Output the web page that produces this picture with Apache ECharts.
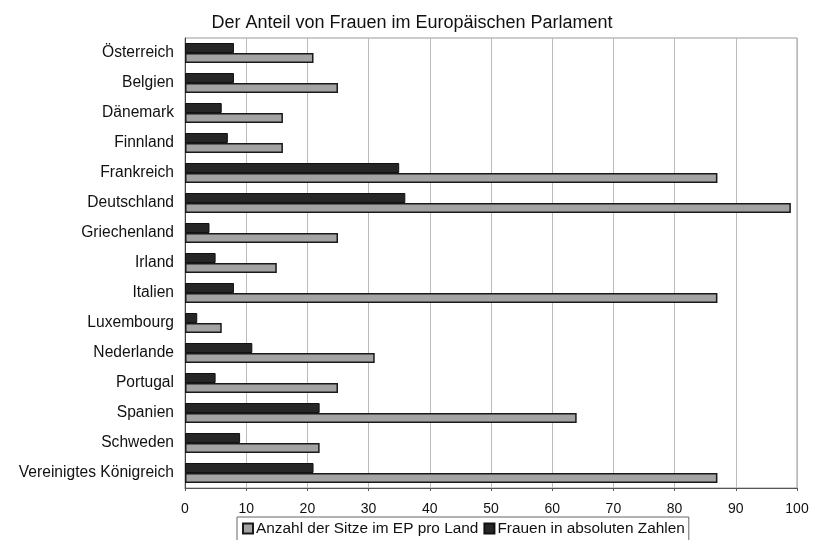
<!DOCTYPE html>
<html><head><meta charset="utf-8">
<script src="https://cdn.jsdelivr.net/npm/echarts@6/dist/echarts.min.js"></script>
<style>html,body{margin:0;padding:0;background:#fff}#c{width:814px;height:540px}</style>
</head><body><div id="c"></div>
<script>
const categories = ["Österreich","Belgien","Dänemark","Finnland","Frankreich","Deutschland","Griechenland","Irland","Italien","Luxembourg","Nederlande","Portugal","Spanien","Schweden","Vereinigtes Königreich"];
const seats = [21,25,16,16,87,99,25,15,87,6,31,25,64,22,87];
const women = [8,8,6,7,35,36,4,5,8,2,11,5,22,9,21];
const xTicks = [0,10,20,30,40,50,60,70,80,90,100];
const seatsName = "Anzahl der Sitze im EP pro Land";
const womenName = "Frauen in absoluten Zahlen";

const chart = echarts.init(document.getElementById('c'));
const font = 'Liberation Sans, Arial, sans-serif';
chart.setOption({
  animation:false,
  backgroundColor:'#fff',
  title:{text:'Der Anteil von Frauen im Europäischen Parlament',left:407,textAlign:'center',top:9,
    textStyle:{fontFamily:font,fontSize:18,fontWeight:'normal',color:'#111'}},
  grid:{left:185,right:17,top:38,bottom:52,show:true,borderColor:'#999',borderWidth:1},
  legend:{top:517,left:237,data:[seatsName,womenName],icon:'rect',itemWidth:10,itemHeight:10,itemGap:5,
    borderColor:'#666',borderWidth:1,padding:[4,4,10,5],
    textStyle:{fontFamily:font,fontSize:15.4,color:'#111',padding:[0,0,0,-2]}},
  xAxis:{type:'value',min:xTicks[0],max:xTicks[xTicks.length-1],interval:10,
    axisLine:{show:true,lineStyle:{color:'#555'}},axisTick:{show:true,length:3,lineStyle:{color:'#555'}},
    axisLabel:{fontFamily:font,fontSize:14,color:'#111',margin:14},
    splitLine:{show:true,lineStyle:{color:'#bbb'}}},
  yAxis:{type:'category',data:categories,inverse:true,
    axisLine:{show:true,lineStyle:{color:'#444'}},axisTick:{show:false},
    axisLabel:{fontFamily:font,fontSize:15.6,color:'#111',margin:11}},
  series:[
    {name:womenName,type:'bar',data:women,barWidth:10,barGap:'0%',
      itemStyle:{color:'#262626',borderColor:'#111',borderWidth:1}},
    {name:seatsName,type:'bar',data:seats,barWidth:10,barGap:'0%',
      itemStyle:{color:'#a3a3a3',borderColor:'#1a1a1a',borderWidth:1.5}}
  ]
});
</script></body></html>
